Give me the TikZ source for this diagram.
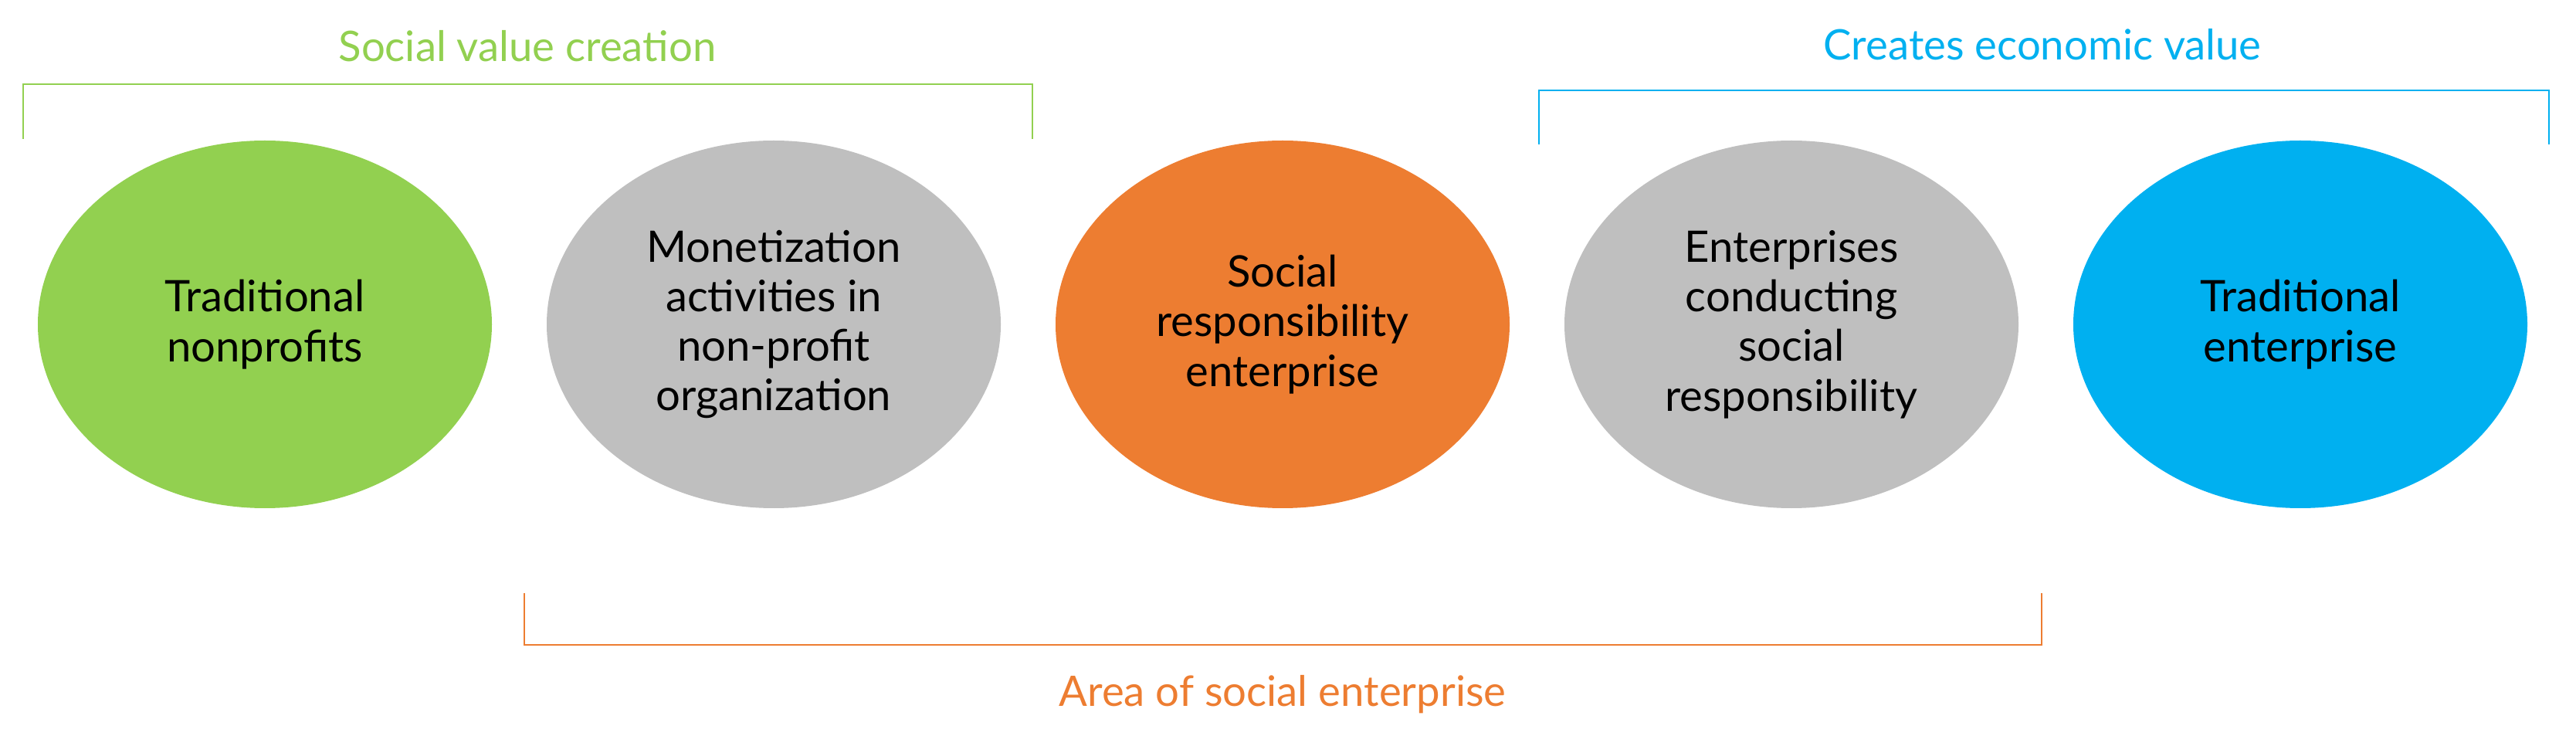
\documentclass[tikz,border=0pt]{standalone}
\usepackage{fontspec}
\setmainfont{Lato}
\usetikzlibrary{shapes.geometric}
\definecolor{sgreen}{HTML}{92D050}
\definecolor{sgrey}{HTML}{BFBFBF}
\definecolor{sorange}{HTML}{ED7D31}
\definecolor{sblue}{HTML}{00B0F0}
\tikzset{every node/.style={inner sep=0pt}}
\tikzset{blob/.style={ellipse,draw=none,minimum width=5.88cm,minimum height=4.76cm,align=center,font=\fontsize{16}{18.3}\selectfont}}
\tikzset{head/.style={anchor=base,font=\fontsize{15.5}{18}\selectfont}}
\tikzset{brace/.style={line width=0.8pt}}

\begin{document}
\begin{tikzpicture}
      \useasboundingbox (0,0) rectangle (33.36,9.52);
      \node[blob,fill=sgreen] (np) at (3.43,5.32) {Traditional\\nonprofits};
      \node[blob,fill=sgrey] (mon) at (10.02,5.32) {Monetization\\activities in\\non-profit\\organization};
      \node[blob,fill=sorange] (sre) at (16.61,5.32) {Social\\responsibility\\enterprise};
      \node[blob,fill=sgrey] (csr) at (23.20,5.32) {Enterprises\\conducting\\social\\responsibility};
      \node[blob,fill=sblue] (te) at (29.79,5.32) {Traditional\\enterprise};
      \coordinate (g1) at (0.30,7.72);
      \coordinate (g2) at (13.37,7.72);
      \coordinate (b1) at (19.93,7.65);
      \coordinate (b2) at (33.01,7.65);
      \coordinate (o1) at (6.79,1.84);
      \coordinate (o2) at (26.44,1.84);
        \draw[brace,sgreen] (g1) -- ++(0,0.71) -| (g2);
        \draw[brace,sblue] (b1) -- ++(0,0.70) -| (b2);
        \draw[brace,sorange] (o1) -- ++(0,-0.67) -| (o2);
      \node[head,text=sgreen] (svc) at (6.83,8.72) {Social value creation};
      \node[head,text=sblue] (cev) at (26.45,8.74) {Creates economic value};
      \node[head,text=sorange] (ase) at (16.61,0.38) {Area of social enterprise};
    \end{tikzpicture}
\end{document}
